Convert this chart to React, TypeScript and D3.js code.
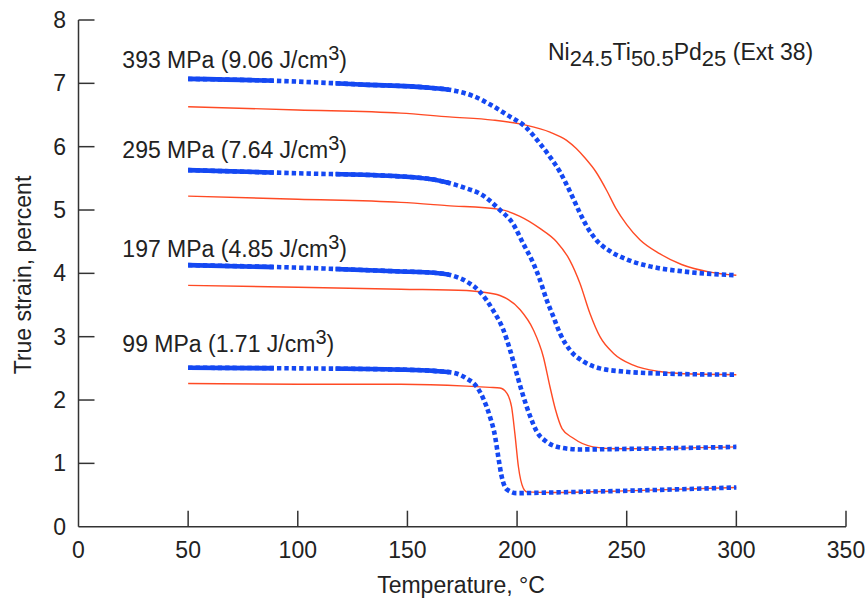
import React from "react";
import * as d3 from "d3";

// ---- data (temperature °C, true strain %) ----
const b393T = [50, 90, 130, 160, 172, 180, 188, 196, 203.6, 210.4, 215, 219.6, 224, 228.7, 232, 236.3, 242.4, 250, 260.6, 275.8, 300];
const b393V = [7.07, 7.04, 6.98, 6.93, 6.88, 6.80, 6.66, 6.49, 6.32, 6.05, 5.84, 5.60, 5.30, 4.95, 4.73, 4.52, 4.35, 4.22, 4.11, 4.03, 3.97];
const r393T = [50, 100, 147, 169, 189, 204, 215, 222.6, 227, 231, 236, 241, 245, 250, 256, 265, 275, 288, 300];
const r393V = [6.63, 6.58, 6.53, 6.47, 6.42, 6.34, 6.23, 6.10, 5.97, 5.82, 5.60, 5.30, 5.03, 4.77, 4.53, 4.31, 4.14, 4.02, 3.97];

const b295T = [50, 100, 147, 165, 177, 183, 192.2, 198, 202.8, 207.4, 210.4, 213.5, 216.5, 219.6, 224.1, 230.2, 237.8, 248.4, 263.6, 300];
const b295V = [5.63, 5.58, 5.53, 5.46, 5.34, 5.26, 5.00, 4.79, 4.47, 4.16, 3.90, 3.58, 3.32, 3.05, 2.79, 2.61, 2.50, 2.45, 2.42, 2.40];
const r295T = [50, 100, 147, 168, 192.2, 201.3, 210.4, 218, 224, 228.7, 233.2, 237.8, 243.9, 253, 265, 280, 300];
const r295V = [5.22, 5.17, 5.12, 5.07, 5.01, 4.90, 4.71, 4.50, 4.21, 3.84, 3.37, 3.00, 2.74, 2.55, 2.45, 2.41, 2.40];

const b197T = [50, 100, 147, 162, 171, 177, 183, 186, 189, 193.7, 196.8, 199.8, 202.3, 206, 209, 213.5, 219.6, 228.7, 253, 300];
const b197V = [4.13, 4.09, 4.03, 4.01, 3.96, 3.87, 3.71, 3.58, 3.42, 3.11, 2.79, 2.42, 2.12, 1.74, 1.50, 1.34, 1.25, 1.22, 1.23, 1.26];
const r197T = [50, 100, 147, 177, 183, 192.2, 201.3, 207.4, 212, 215, 217.5, 220.5, 225.5, 234.6, 245.4, 300];
const r197V = [3.81, 3.78, 3.75, 3.73, 3.71, 3.65, 3.43, 3.11, 2.68, 2.21, 1.85, 1.55, 1.40, 1.26, 1.23, 1.26];

const b99T = [50, 100, 147, 162, 171, 177, 181.6, 184.5, 187.6, 190, 191.4, 193, 195.3, 199.8, 215, 253, 300];
const b99V = [2.51, 2.50, 2.48, 2.46, 2.43, 2.34, 2.21, 2.03, 1.74, 1.42, 1.11, 0.79, 0.59, 0.53, 0.54, 0.57, 0.62];
const r99T = [50, 100, 147, 177, 187.6, 192.2, 195.3, 197.5, 199, 200.6, 202.8, 204.4, 215, 253, 300];
const r99V = [2.26, 2.25, 2.25, 2.22, 2.20, 2.19, 2.11, 1.89, 1.47, 0.95, 0.61, 0.55, 0.54, 0.57, 0.62];

const blueT = [b393T, b295T, b197T, b99T];
const blueV = [b393V, b295V, b197V, b99V];
const redT = [r393T, r295T, r197T, r99T];
const redV = [r393V, r295V, r197V, r99V];

// temperature ranges where the dense measurement points merge into a solid band
const solidRanges = [[50, 89], [118.5, 169]];

const labelStress = ["393 MPa", "295 MPa", "197 MPa", "99 MPa"];
const labelEnergy = ["9.06", "7.64", "4.85", "1.71"];
const labelV = [7.24, 5.82, 4.26, 2.76];

const xTicks = [0, 50, 100, 150, 200, 250, 300, 350];
const yTicks = [0, 1, 2, 3, 4, 5, 6, 7, 8];

const W = 868;
const H = 600;
const FONT = "'Liberation Sans', Arial, Helvetica, sans-serif";
const BLUE = "#1448f2";
const RED = "#ff4a24";
const AXIS = "#333";
const TXT = "#222";

export default function App() {
  const x = d3.scaleLinear().domain([0, 350]).range([78.5, 846]);
  const y = d3.scaleLinear().domain([0, 8]).range([526.7, 20]);

  const line = (ts: number[], vs: number[]) =>
    d3
      .line<number>()
      .x((_, i) => x(ts[i]))
      .y((_, i) => y(vs[i]))
      .curve(d3.curveMonotoneX)(vs) || "";

  return (
    <svg
      width={W}
      height={H}
      style={{ position: "absolute", left: 0, top: 0, background: "#fff" }}
      fontFamily={FONT}
    >
      <defs>
        <clipPath id="solidClip">
          {solidRanges.map((r, i) => (
            <rect key={i} x={x(r[0]) - 3} y={0} width={x(r[1]) - x(r[0]) + 3} height={H} />
          ))}
        </clipPath>
      </defs>

      {/* red curves */}
      {redT.map((ts, i) => (
        <path key={"r" + i} d={line(ts, redV[i])} fill="none" stroke={RED} strokeWidth={1.4} />
      ))}

      {/* blue curves: dotted squares + solid dense segments */}
      {blueT.map((ts, i) => (
        <g key={"b" + i}>
          <path
            d={line(ts, blueV[i])}
            fill="none"
            stroke={BLUE}
            strokeWidth={4.6}
            strokeDasharray="4.4 3"
          />
          <path
            d={line(ts, blueV[i])}
            fill="none"
            stroke={BLUE}
            strokeWidth={4.6}
            clipPath="url(#solidClip)"
          />
        </g>
      ))}

      {/* axes */}
      <line x1={x(0)} x2={x(350)} y1={y(0)} y2={y(0)} stroke={AXIS} strokeWidth={1.5} />
      <line x1={x(0)} x2={x(0)} y1={y(0)} y2={y(8)} stroke={AXIS} strokeWidth={1.5} />
      {xTicks.map((t) => (
        <g key={"xt" + t}>
          {t > 0 && (
            <line x1={x(t)} x2={x(t)} y1={y(0)} y2={y(0) - 16} stroke={AXIS} strokeWidth={1.5} />
          )}
          <text x={x(t)} y={558} textAnchor="middle" fontSize={23} fill={TXT}>
            {t}
          </text>
        </g>
      ))}
      {yTicks.map((t) => (
        <g key={"yt" + t}>
          {t > 0 && (
            <line x1={x(0)} x2={x(0) + 16} y1={y(t)} y2={y(t)} stroke={AXIS} strokeWidth={1.5} />
          )}
          <text x={66} y={y(t) + 8} textAnchor="end" fontSize={23} fill={TXT}>
            {t}
          </text>
        </g>
      ))}

      {/* axis titles */}
      <text x={461} y={593} textAnchor="middle" fontSize={23} fill={TXT}>
        Temperature, °C
      </text>
      <text
        transform={`translate(31, 275) rotate(-90)`}
        textAnchor="middle"
        fontSize={23}
        fill={TXT}
      >
        True strain, percent
      </text>

      {/* curve labels */}
      {labelStress.map((s, i) => (
        <text key={"l" + i} x={x(20)} y={y(labelV[i])} fontSize={23} fill={TXT}>
          {s} ({labelEnergy[i]} J/cm
          <tspan dy={-8} fontSize={20}>
            3
          </tspan>
          <tspan dy={8}>)</tspan>
        </text>
      ))}

      {/* composition title */}
      <text x={548} y={60} fontSize={23} fill={TXT}>
        Ni
        <tspan dy={6} fontSize={22}>
          24.5
        </tspan>
        <tspan dy={-6}>Ti</tspan>
        <tspan dy={6} fontSize={22}>
          50.5
        </tspan>
        <tspan dy={-6}>Pd</tspan>
        <tspan dy={6} fontSize={22}>
          25
        </tspan>
        <tspan dy={-6}> (Ext 38)</tspan>
      </text>
    </svg>
  );
}
